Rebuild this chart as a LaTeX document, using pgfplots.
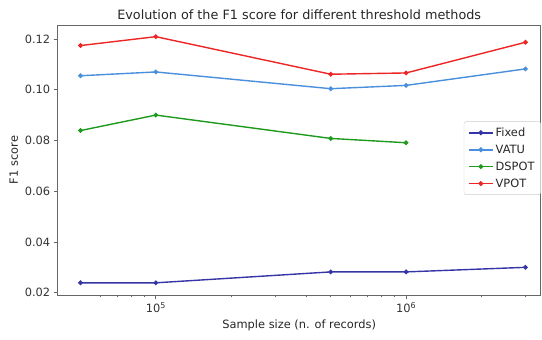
\documentclass[border=0pt]{standalone}
\usepackage{pgfplots}
\pgfplotsset{compat=1.18}
\usepackage{fontspec}
\setmainfont{DejaVu Sans}
\definecolor{cfixed}{HTML}{3535A5}
\definecolor{cvatu}{HTML}{4A8FDB}
\definecolor{cdspot}{HTML}{1E9A1E}
\definecolor{cvpot}{HTML}{EE2525}
\definecolor{cframe}{HTML}{666666}
\begin{document}
\begin{tikzpicture}
\begin{axis}[
  scale only axis,
  width=483pt, height=270pt,
  xmode=log,
  xmin=40551, xmax=3451437,
  ymin=0.0191, ymax=0.1255,
  axis line style={cframe, line width=0.8pt},
  xtick={1e5,1e6},
  xticklabels={10\textsuperscript{5},10\textsuperscript{6}},
  minor xtick={60000,70000,80000,90000,200000,300000,400000,500000,600000,700000,800000,900000,2000000,3000000},
  ytick={0.02,0.04,0.06,0.08,0.10,0.12},
  yticklabel style={/pgf/number format/.cd, fixed, fixed zerofill, precision=2, assume math mode=true},
  tick align=outside,
  major tick length=4pt,
  minor tick length=2.5pt,
  tick style={cframe, line width=0.7pt},
  xtick pos=bottom, ytick pos=left,
  ticklabel style={font=\fontsize{11.4}{13}\selectfont, text=black!80},
  xlabel={Sample size (n. of records)},
  ylabel={F1 score},
  label style={font=\fontsize{11.4}{13}\selectfont, text=black!85},
  title={Evolution of the F1 score for different threshold methods},
  title style={font=\fontsize{12.8}{14}\selectfont, text=black!85, yshift=-4pt},
  legend style={at={(1,0.507)}, anchor=east, draw=black!20, rounded corners=2pt,
    font=\fontsize{11.4}{13}\selectfont, text=black!85, row sep=3pt, inner xsep=4pt, inner ysep=4pt},
  legend cell align=left,
  legend image code/.code={\draw[#1, mark=none, line width=1.7pt] (0pt,0pt) -- (24pt,0pt);
     \fill[#1] (12pt,0pt) circle (1.7pt);},
  every axis plot/.append style={line width=1.4pt, mark=*, mark size=1.6pt},
]
\addplot[color=cfixed] coordinates {(50000,0.0239) (100000,0.0239) (500000,0.0282) (1000000,0.0282) (3000000,0.0300)};
\addlegendentry{Fixed}
\addplot[color=cvatu] coordinates {(50000,0.1055) (100000,0.1070) (500000,0.1004) (1000000,0.1017) (3000000,0.1082)};
\addlegendentry{VATU}
\addplot[color=cdspot] coordinates {(50000,0.0839) (100000,0.0900) (500000,0.0808) (1000000,0.0791)};
\addlegendentry{DSPOT}
\addplot[color=cvpot] coordinates {(50000,0.1174) (100000,0.1209) (500000,0.1061) (1000000,0.1066) (3000000,0.1187)};
\addlegendentry{VPOT}
\end{axis}
\pgfresetboundingbox
\path (-57.7pt,-45pt) rectangle (484.3pt,295pt);
\end{tikzpicture}
\end{document}
